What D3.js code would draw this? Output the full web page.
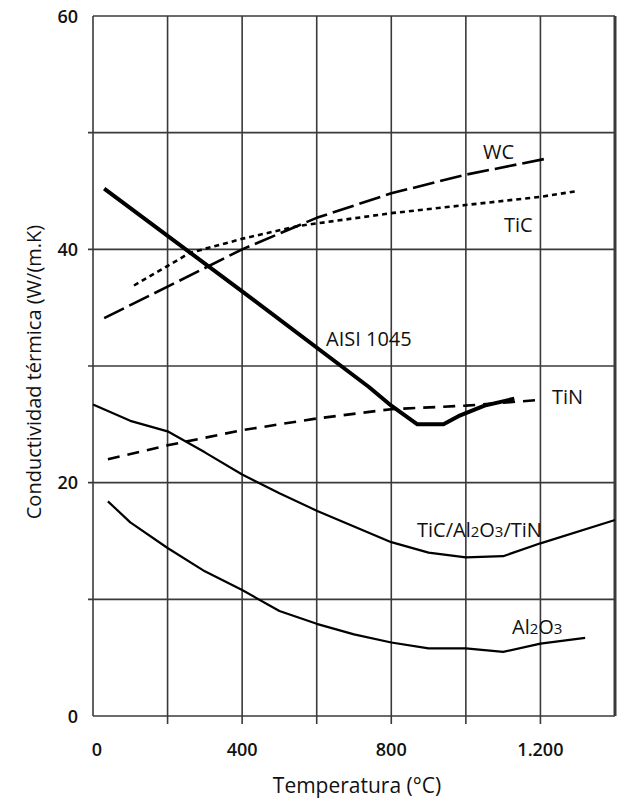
<!DOCTYPE html>
<html><head><meta charset="utf-8">
<script src="https://cdn.jsdelivr.net/npm/d3@7"></script>
<style>body{margin:0;background:#fff}svg{display:block}text{font-family:"Open Sans",sans-serif;fill:#111}</style>
</head><body>
<script>
const xGrid = [0,200,400,600,800,1000,1200,1400];
const xTickLabels = [[0,"0"],[400,"400"],[800,"800"],[1200,"1.200"]];
const yGrid = [0,10,20,30,40,50,60];
const yTickLabels = [0,20,40,60];

const aisi = [[30,45.2],[400,36.4],[740,28.2],[800,26.6],[870,25],[940,25],[980,25.7],[1050,26.6],[1130,27.2]];
const wc = [[30,34.1],[200,36.8],[400,40],[600,42.7],[800,44.8],[1000,46.4],[1220,47.8]];
const tic = [[110,36.9],[260,39.7],[400,40.9],[550,42],[800,43.1],[1000,43.8],[1200,44.5],[1300,45]];
const tin = [[40,22],[200,23.2],[400,24.5],[600,25.5],[800,26.3],[1000,26.6],[1200,27.1]];
const ticAlTin = [[0,26.7],[100,25.3],[200,24.4],[300,22.6],[400,20.7],[500,19.1],[600,17.6],[800,14.9],[900,14],[1000,13.6],[1100,13.7],[1200,14.8],[1400,16.8]];
const al2o3 = [[40,18.4],[100,16.6],[200,14.4],[300,12.4],[400,10.8],[500,9],[600,7.9],[700,7],[800,6.3],[900,5.8],[1000,5.8],[1100,5.5],[1200,6.2],[1320,6.7]];

const W=620,H=799;
const svg=d3.select("body").append("svg").attr("width",W).attr("height",H);
const x=d3.scaleLinear().domain([0,1400]).range([93,615]);
const y=d3.scaleLinear().domain([0,60]).range([716,16]);
const gc="#3a3a3a";

// grid
svg.append("g").selectAll("line").data(xGrid).join("line")
  .attr("x1",d=>x(d)).attr("x2",d=>x(d)).attr("y1",y(60)).attr("y2",d=> (d===0||d===1400)?y(0):y(0)+8)
  .attr("stroke",gc).attr("stroke-width",d=>d===1400?3:1.6);
svg.append("g").selectAll("line").data(yGrid).join("line")
  .attr("x1",d=>(d===0||d===60)?x(0):x(0)-5).attr("x2",x(1400)).attr("y1",d=>y(d)).attr("y2",d=>y(d))
  .attr("stroke",gc).attr("stroke-width",1.6);

// tick labels
svg.append("g").selectAll("text").data(yTickLabels).join("text")
  .attr("x",78).attr("y",d=>y(d)+6.5).attr("text-anchor","end")
  .attr("font-size",18).attr("font-weight",600).text(d=>d);
svg.append("g").selectAll("text").data(xTickLabels).join("text")
  .attr("x",d=>x(d[0])+(d[0]===0?4:0)).attr("y",756).attr("text-anchor","middle")
  .attr("font-size",18).attr("font-weight",600).text(d=>d[1]);

// axis titles
svg.append("text").attr("x",357).attr("y",793).attr("text-anchor","middle").attr("font-size",21).text("Temperatura (°C)");
svg.append("text").attr("transform","translate(41,372) rotate(-90)").attr("text-anchor","middle").attr("font-size",20).text("Conductividad térmica (W/(m.K)");

const line=d3.line().x(d=>x(d[0])).y(d=>y(d[1]));
const series=[
  {d:ticAlTin,w:2.2,dash:null},
  {d:al2o3,w:2.2,dash:null},
  {d:tin,w:2.6,dash:"12,8"},
  {d:tic,w:2.6,dash:"5,4"},
  {d:wc,w:2.6,dash:"22,6"},
  {d:aisi,w:4,dash:null}
];
svg.append("g").selectAll("path").data(series).join("path")
  .attr("d",s=>line(s.d)).attr("fill","none").attr("stroke","#000")
  .attr("stroke-width",s=>s.w).attr("stroke-dasharray",s=>s.dash).attr("stroke-linejoin","round");

// labels
const lab=(xx,yy)=>svg.append("text").attr("x",xx).attr("y",yy).attr("dy","0.35em").attr("font-size",20);
lab(483,152).text("WC");
lab(504,225).text("TiC");
lab(326,339).text("AISI 1045");
lab(552,397).text("TiN");
const t1=lab(417,530);
t1.append("tspan").text("TiC/Al");
t1.append("tspan").attr("font-size",15).text("2");
t1.append("tspan").text("O");
t1.append("tspan").attr("font-size",15).text("3");
t1.append("tspan").text("/TiN");
const t2=lab(512,627);
t2.append("tspan").text("Al");
t2.append("tspan").attr("font-size",15).text("2");
t2.append("tspan").text("O");
t2.append("tspan").attr("font-size",15).text("3");
</script>
</body></html>
